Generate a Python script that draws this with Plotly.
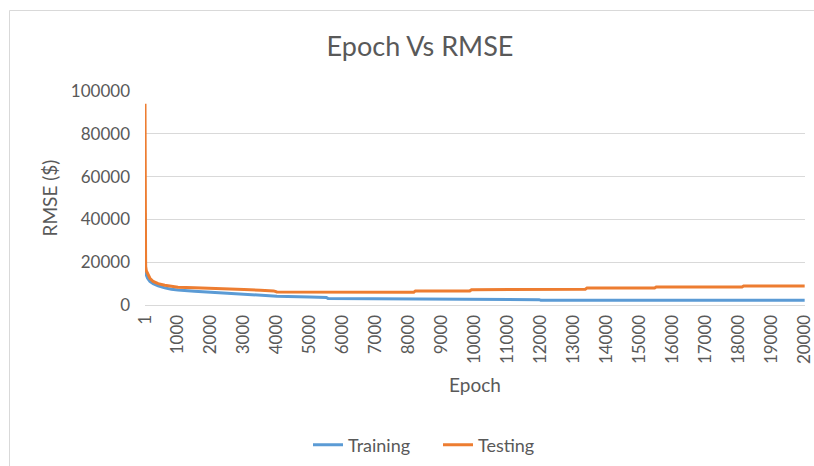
import plotly.graph_objects as go

# Data (epoch, RMSE)
train_epochs = [1, 3, 6, 10, 20, 40, 80, 150, 250, 400, 600, 800, 1000, 1500, 2000, 2500,
                3000, 3400, 3450, 4000, 5000, 5500, 5550, 7700, 7750, 9000, 10000, 11950,
                12000, 16000, 20000]
train_rmse = [43000, 36000, 25000, 17500, 15500, 14000, 12500, 11000, 10000, 9000, 8000,
              7400, 7000, 6400, 5900, 5400, 5000, 4800, 4400, 4100, 3700, 3500, 3000, 2900,
              2600, 2600, 2600, 2500, 2200, 2200, 2200]

test_epochs = [1, 3, 6, 10, 20, 40, 80, 150, 250, 400, 600, 800, 1000, 1500, 2000, 2500,
               3000, 3500, 3900, 4000, 8150, 8200, 9850, 9900, 11650, 11700, 13350, 13400,
               15450, 15500, 18100, 18150, 20000]
test_rmse = [94000, 45000, 26000, 21000, 18000, 16000, 14500, 12500, 11000, 10000, 9200,
             8700, 8300, 8100, 7900, 7600, 7300, 6900, 6600, 6100, 6000, 6600, 6600, 7100,
             7100, 7400, 7400, 7900, 7900, 8400, 8400, 8900, 8900]

x_ticks = [1] + list(range(1000, 20001, 1000))
x_labels = [str(v) for v in x_ticks]
y_ticks = [0, 20000, 40000, 60000, 80000, 100000]
y_labels = [str(v) for v in y_ticks]

FONT = "Lato, 'Open Sans', sans-serif"
GRID = "#d9d9d9"
TXT = "#595959"

fig = go.Figure()
fig.add_trace(go.Scatter(x=train_epochs, y=train_rmse, mode="lines", name="Training",
                         line=dict(color="#5B9BD5", width=3)))
fig.add_trace(go.Scatter(x=test_epochs, y=test_rmse, mode="lines", name="Testing",
                         line=dict(color="#ED7D31", width=3)))

L, R, T, B = 145, 9, 91, 161
W, H = 814, 466
pw, ph = W - L - R, H - T - B

def px_x(p):
    return (p - L) / pw

def px_y(p):
    return (H - B - p) / ph

fig.update_layout(
    width=W, height=H,
    margin=dict(l=L, r=R, t=T, b=B, autoexpand=False),
    paper_bgcolor="white", plot_bgcolor="white",
    font=dict(family=FONT, color=TXT, size=17),
    title=dict(text="Epoch Vs RMSE", x=420 / W, xref="container", xanchor="center",
               y=1 - 47 / H, yref="container", yanchor="middle",
               font=dict(size=27, color=TXT, family=FONT)),
    xaxis=dict(range=[1, 20010], tickmode="array", tickvals=x_ticks, ticktext=x_labels,
               tickangle=-90, showgrid=False, showline=True, linecolor=GRID, linewidth=1,
               ticks="", zeroline=False, tickfont=dict(size=17, color=TXT),
               ticklabelstandoff=2, automargin=False, ticklabeloverflow="allow",
               title=dict(text="Epoch", font=dict(size=19, color=TXT), standoff=15)),
    yaxis=dict(range=[0, 100000], tickmode="array", tickvals=y_ticks, ticktext=y_labels,
               showgrid=True, gridcolor=GRID, gridwidth=1, zeroline=False, showline=False,
               ticks="", tickfont=dict(size=17, color=TXT), ticklabelstandoff=14,
               automargin=False,
               title=dict(text="RMSE ($)", font=dict(size=19, color=TXT), standoff=8)),
    legend=dict(orientation="h", x=px_x(438), xanchor="center", y=px_y(445),
                yanchor="middle", font=dict(size=18, color=TXT), bgcolor="rgba(0,0,0,0)",
                entrywidth=85, entrywidthmode="pixels"),
    showlegend=True,
    shapes=[
        dict(type="line", xref="paper", yref="paper", x0=px_x(9.5), x1=px_x(9.5),
             y0=px_y(10.5), y1=px_y(470), line=dict(color=GRID, width=1)),
        dict(type="line", xref="paper", yref="paper", x0=px_x(9.5), x1=px_x(820),
             y0=px_y(10.5), y1=px_y(10.5), line=dict(color=GRID, width=1)),
    ],
)

fig.write_html("out.html", config={"displayModeBar": False},
               post_script="document.body.style.margin='0px';document.body.style.overflow='hidden';")
